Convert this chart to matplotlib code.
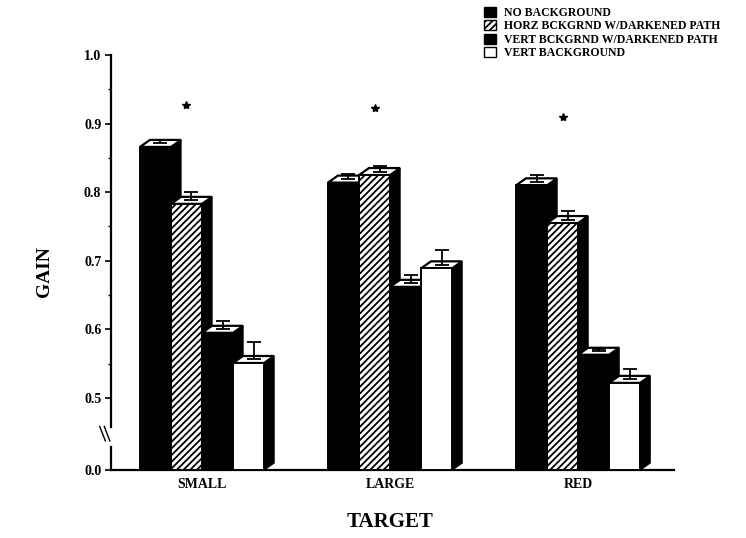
import numpy as np
import matplotlib
matplotlib.use("Agg")
import matplotlib.pyplot as plt
from matplotlib.patches import Polygon, Patch

# ---- data ----
targets = ["SMALL", "LARGE", "RED"]
conditions = ["NO BACKGROUND", "HORZ BCKGRND W/DARKENED PATH",
              "VERT BCKGRND W/DARKENED PATH", "VERT BACKGROUND"]
gain_no_bg = [0.866, 0.814, 0.810]
gain_horz_path = [0.783, 0.825, 0.755]
gain_vert_path = [0.595, 0.662, 0.563]
gain_vert_bg = [0.551, 0.689, 0.522]
err_no_bg = [0.005, 0.008, 0.010]
err_horz_path = [0.012, 0.008, 0.012]
err_vert_path = [0.012, 0.012, 0.004]
err_vert_bg = [0.025, 0.022, 0.015]
star_levels = [0.927, 0.923, 0.910]
y_ticks = [0.0, 0.5, 0.6, 0.7, 0.8, 0.9, 1.0]
y_minor = [0.55, 0.65, 0.75, 0.85, 0.95]

series = [gain_no_bg, gain_horz_path, gain_vert_path, gain_vert_bg]
errors = [err_no_bg, err_horz_path, err_vert_path, err_vert_bg]

SERIF = "Liberation Serif"

# ---- broken y scale: 0..0.5 squeezed into a short stub ----
ZERO_POS = 0.395


def fwd(v):
    v = np.asarray(v, dtype=float)
    return np.where(v >= 0.5, v, ZERO_POS + v * (0.5 - ZERO_POS) / 0.5)


def inv(u):
    u = np.asarray(u, dtype=float)
    return np.where(u >= 0.5, u, (u - ZERO_POS) * 0.5 / (0.5 - ZERO_POS))


W, H = 746, 538
fig = plt.figure(figsize=(W / 100, H / 100), dpi=100)
ax = fig.add_axes([111 / W, (H - 470) / H, (674 - 111) / W, (470 - 55) / H])
ax.set_yscale("function", functions=(fwd, inv))
ax.set_ylim(0.0, 1.0)
ax.set_xlim(-0.484, 2.51)

bar_w = 0.165
depth_x = 0.053           # oblique depth of the 3-D boxes (x data units)
depth_u = 0.0102          # oblique depth (scale units on y)

styles = [
    dict(face="black", hatch=None),
    dict(face="white", hatch="/////"),
    dict(face="black", hatch=None),
    dict(face="white", hatch=None),
]

plt.rcParams["hatch.linewidth"] = 1.3

group_x = np.arange(len(targets))
for g in group_x:
    for i, (vals, errs, st) in enumerate(zip(series, errors, styles)):
        v = vals[g]
        xc = g + (i - 1.5) * bar_w
        x0, x1 = xc - bar_w / 2, xc + bar_w / 2
        z = 2 + g * 10 + i * 2
        v_back = float(inv(fwd(v) + depth_u))
        base_back = float(inv(fwd(0.0) + depth_u))
        # side face
        side = Polygon([(x1, 0.0), (x1 + depth_x, base_back),
                        (x1 + depth_x, v_back), (x1, v)],
                       closed=True, facecolor="black", edgecolor="black",
                       linewidth=1, zorder=z)
        ax.add_patch(side)
        # top face
        top = Polygon([(x0, v), (x1, v), (x1 + depth_x, v_back),
                       (x0 + depth_x, v_back)],
                      closed=True, facecolor="white", edgecolor="black",
                      linewidth=1.6, zorder=z)
        ax.add_patch(top)
        # front face
        ax.bar(xc, v, width=bar_w, bottom=0.0, color=st["face"],
               edgecolor="black", linewidth=1.4, hatch=st["hatch"],
               zorder=z + 0.5)
        # error bar rising from the middle of the top face
        y_mid = float(inv(fwd(v) + depth_u / 2))
        ax.errorbar(xc + depth_x / 2, y_mid, yerr=[[0.0], [errs[g]]],
                    fmt="none", ecolor="black", elinewidth=1.3,
                    capsize=5, capthick=1.3, zorder=z + 1)
    # significance marker
    ax.plot(g - bar_w / 2, star_levels[g], marker="*", color="black",
            markersize=6, zorder=50)

# ---- axes decoration ----
for s in ("top", "right"):
    ax.spines[s].set_visible(False)
ax.spines["left"].set_bounds(0.3, 1.0)
ax.spines["left"].set_linewidth(1.6)
ax.spines["bottom"].set_linewidth(1.6)
ax.plot([ax.get_xlim()[0]] * 2, [0.0, 0.16], color="black", lw=1.6,
        clip_on=False, zorder=60)
for off in (-0.014, -0.006):
    ax.plot([off - 0.006, off + 0.004], [0.105, 0.07], color="black",
            lw=1.0, transform=ax.transAxes, clip_on=False)

ax.set_yticks(y_ticks)
ax.set_yticklabels([f"{t:.1f}" for t in y_ticks])
ax.set_yticks(y_minor, minor=True)
ax.tick_params(axis="y", which="major", direction="out", length=4,
               width=1.2, pad=3)
ax.tick_params(axis="y", which="minor", direction="out", length=2.5,
               width=1.0)
ax.set_xticks(group_x)
ax.set_xticklabels(targets)
ax.tick_params(axis="x", length=0, pad=6)
for lab in ax.get_xticklabels() + ax.get_yticklabels():
    lab.set_fontfamily(SERIF)
    lab.set_fontweight("bold")
    lab.set_fontsize(10)

fig.text(45 / W, 1 - 272 / H, "GAIN", rotation=90, ha="center",
         va="center", fontfamily=SERIF, fontsize=14, fontweight="bold")
fig.text(390 / W, 1 - 522 / H, "TARGET", ha="center", va="center",
         fontfamily=SERIF, fontsize=15, fontweight="bold")

handles = [Patch(facecolor="black", edgecolor="black"),
           Patch(facecolor="white", edgecolor="black", hatch="/////"),
           Patch(facecolor="black", edgecolor="black"),
           Patch(facecolor="white", edgecolor="black")]
fig.legend(handles, conditions, loc="upper left",
           bbox_to_anchor=(484 / W, 1 - 7 / H), frameon=False,
           prop=dict(family=SERIF, weight="bold", size=8.5),
           handlelength=1.0, handleheight=0.9, handletextpad=0.7,
           labelspacing=0.12, borderpad=0, borderaxespad=0)

fig.savefig("out.png", dpi=100)
